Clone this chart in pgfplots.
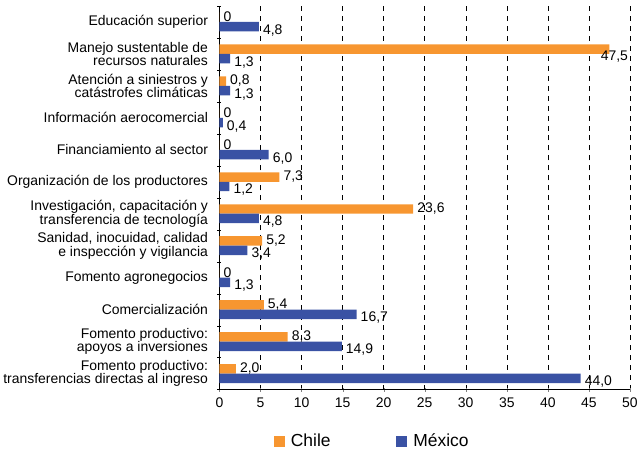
\documentclass[border=0pt]{standalone}
\usepackage{fontspec}
\setmainfont{Liberation Sans}
\usepackage{pgfplots}
\pgfplotsset{compat=1.18}
\definecolor{chile}{RGB}{247,150,48}
\definecolor{mexico}{RGB}{58,82,164}

\begin{document}
\begin{tikzpicture}
\begin{axis}[
  name=ax,
  xbar,
  scale only axis,
  width=412pt, height=385pt,
  xmin=0, xmax=50,
  ymin=-0.5, ymax=11.5,
  xtick={0,5,...,50},
  ytick={0,...,11},
  minor ytick={-0.5,0.5,...,11.5},
  yticklabels={
    {Fomento productivo:\\transferencias directas al ingreso},
    {Fomento productivo:\\apoyos a inversiones},
    {Comercializaci\'on},
    {Fomento agronegocios},
    {Sanidad, inocuidad, calidad\\e inspecci\'on y vigilancia},
    {Investigaci\'on, capacitaci\'on y\\transferencia de tecnolog\'ia},
    {Organizaci\'on de los productores},
    {Financiamiento al sector},
    {Informaci\'on aerocomercial},
    {Atenci\'on a siniestros y\\cat\'astrofes clim\'aticas},
    {Manejo sustentable de\\recursos naturales},
    {Educaci\'on superior}},
  yticklabel style={align=right, xshift=-6pt, font=\fontsize{14}{13.5}\selectfont},
  xticklabel style={yshift=-3pt, font=\fontsize{14}{15}\selectfont},
  /pgf/number format/assume math mode=true,
  axis x line*=bottom, axis y line*=left,
  x axis line style={-}, y axis line style={-},
  tick align=center,
  major y tick style={draw=none},
  minor y tick style={draw=black},
  minor tick length=4pt,
  major tick length=4pt,
  xmajorgrids,
  grid style={black, dash pattern=on 5pt off 5pt},
  bar width=9.5pt,
  point meta=explicit symbolic,
  nodes near coords,
  every node near coord/.append style={anchor=west, black,
    inner sep=4pt, font=\fontsize{14}{15}\selectfont},
  legend style={draw=none, at={(0.125,-0.135)}, anchor=west,
    legend columns=2, font=\fontsize{17.5}{19}\selectfont,
    /tikz/every odd column/.append style={column sep=4pt},
    /tikz/every even column/.append style={column sep=64pt}},
  legend image code/.code={\fill[#1] (0pt,-5.5pt) rectangle (11pt,5.5pt);},
]
\addplot[fill=chile, draw=none, bar shift=4.75pt,
  every node near coord/.append style={yshift=0.5pt}] coordinates {
  (2.0,0) [2,0]
  (8.3,1) [8,3]
  (5.4,2) [5,4]
  (0,3) [0]
  (5.2,4) [5,2]
  (23.6,5) [23,6]
  (7.3,6) [7,3]
  (0,7) [0]
  (0,8) [0]
  (0.8,9) [0,8]
  (47.5,10) []
  (0,11) [0]
};
\addlegendentry{Chile}
\addplot[fill=mexico, draw=none, bar shift=-4.75pt,
  every node near coord/.append style={yshift=-3.5pt}] coordinates {
  (44.0,0) [44,0]
  (14.9,1) [14,9]
  (16.7,2) [16,7]
  (1.3,3) [1,3]
  (3.4,4) [3,4]
  (4.8,5) [4,8]
  (1.2,6) [1,2]
  (6.0,7) [6,0]
  (0.4,8) [0,4]
  (1.3,9) [1,3]
  (1.3,10) [1,3]
  (4.8,11) [4,8]
};
\addlegendentry{M\'exico}
% etiqueta de 47,5 bajo el extremo de la barra
\addplot[draw=none, fill=none, bar shift=4.75pt,
  every node near coord/.append style={anchor=north, xshift=5pt, inner sep=2pt}]
  coordinates {(47.5,10) [47,5]};
\end{axis}
\path ([yshift=6pt]ax.north) ([yshift=-60pt]ax.south);
\end{tikzpicture}
\end{document}
